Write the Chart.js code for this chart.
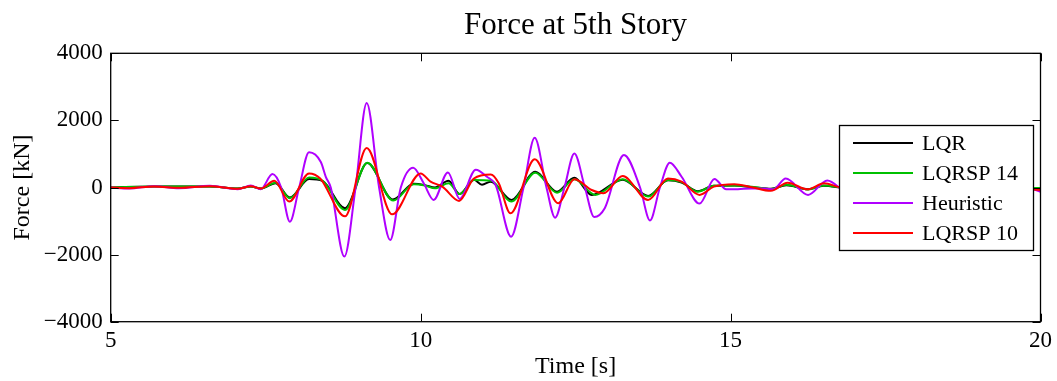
<!DOCTYPE html>
<html>
<head>
<meta charset="utf-8">
<script src="https://cdn.jsdelivr.net/npm/chart.js@4/dist/chart.umd.min.js"></script>
<style>
  html, body { margin: 0; padding: 0; background: #fff; }
  #wrap { width: 1057px; height: 381px; }
</style>
</head>
<body>
<div id="wrap"><canvas id="forceChart" width="1057" height="381"></canvas></div>
<script>
// values (time in s, force in kN)
const timeLQR = [5.0, 5.7, 6.6, 7.05, 7.26, 7.42, 7.66, 7.89, 8.2, 8.42, 8.78, 9.14, 9.55, 9.89, 10.07, 10.23, 10.45, 10.63, 10.86, 10.99, 11.13, 11.47, 11.85, 12.2, 12.48, 12.76, 13.26, 13.67, 13.99, 14.21, 14.47, 14.73, 15.06, 15.4, 15.65, 15.9, 16.25, 16.5, 16.9, 17.4, 18.0, 18.6, 19.2, 20.0];
const forceLQR = [0, 30, 30, -30, 30, -30, 130, -300, 250, 190, -620, 730, -360, 110, 70, 0, 200, -195, 230, 80, 175, -370, 470, -125, 290, -220, 230, -250, 215, 150, -110, 50, 60, 0, -40, 70, -50, 50, -20, 30, -20, 20, -10, -40];

const timeSP14 = [5.0, 5.7, 6.6, 7.05, 7.26, 7.42, 7.66, 7.89, 8.2, 8.42, 8.78, 9.14, 9.56, 9.89, 10.07, 10.23, 10.45, 10.63, 10.86, 11.14, 11.46, 11.85, 12.2, 12.48, 12.82, 13.26, 13.67, 13.99, 14.21, 14.47, 14.73, 15.06, 15.4, 15.65, 15.9, 16.25, 16.5, 16.9, 17.4, 18.0, 18.6, 19.2, 20.0];
const forceSP14 = [0, 30, 30, -30, 30, -30, 140, -320, 300, 200, -670, 740, -390, 100, 60, -25, 125, -195, 225, 200, -420, 440, -155, 245, -220, 245, -270, 225, 160, -125, 50, 60, 10, -50, 80, -60, 60, -20, 40, -20, 20, -10, -15];

const timeHeur = [5.0, 5.3, 5.7, 6.1, 6.6, 7.05, 7.26, 7.42, 7.61, 7.75, 7.89, 8.04, 8.2, 8.39, 8.47, 8.55, 8.77, 8.95, 9.13, 9.33, 9.51, 9.68, 9.88, 10.05, 10.21, 10.44, 10.63, 10.89, 11.07, 11.21, 11.46, 11.66, 11.84, 12.03, 12.17, 12.32, 12.48, 12.65, 12.8, 12.97, 13.28, 13.54, 13.7, 13.86, 14.02, 14.21, 14.5, 14.74, 14.93, 15.12, 15.34, 15.55, 15.69, 15.89, 16.25, 16.56, 16.9, 17.3, 17.7, 18.1, 18.5, 18.9, 19.3, 19.7, 20.0];
const forceHeur = [0, -30, 40, -20, 50, -50, 60, -50, 400, 0, -1020, 0, 1050, 760, 320, 0, -2060, 0, 2520, 0, -1565, 0, 590, 125, -370, 450, -340, 530, 320, 75, -1465, 0, 1480, 0, -900, 0, 1010, 0, -880, -620, 970, 0, -980, 0, 740, 320, -480, 250, -55, -50, -30, -30, -55, 270, -220, 210, -150, 100, -80, 60, -60, 40, -50, 30, -130];

const timeSP10 = [5.0, 5.3, 5.7, 6.1, 6.6, 7.05, 7.26, 7.42, 7.64, 7.88, 8.2, 8.38, 8.78, 9.13, 9.54, 10.0, 10.16, 10.35, 10.62, 10.86, 11.13, 11.26, 11.45, 11.84, 12.22, 12.48, 12.76, 12.95, 13.26, 13.67, 13.99, 14.21, 14.5, 14.73, 15.06, 15.34, 15.65, 15.92, 16.24, 16.51, 16.8, 17.2, 17.6, 18.0, 18.5, 19.0, 19.5, 20.0];
const forceSP10 = [0, -20, 30, -10, 40, -40, 40, -30, 200, -420, 420, 270, -860, 1180, -800, 420, 175, 25, -400, 270, 390, 125, -770, 840, -470, 245, -75, -170, 340, -370, 270, 175, -220, 25, 100, 10, -100, 145, -55, 125, 0, 60, -40, 40, -30, 30, -20, -75];

const xTicks = [5, 10, 15, 20];
const yTicks = [-4000, -2000, 0, 2000, 4000];
const chartTitle = 'Force at 5th Story';

function points(ts, vs) {
    return ts.map((t, i) => ({ x: t, y: vs[i] }));
}

const serif = "'Liberation Serif', 'DejaVu Serif', serif";

// MATLAB style box with inward ticks on all four sides, title centred on the axes
const boxTicks = {
    id: 'boxTicks',
    afterDatasetsDraw(chart) {
        const ctx = chart.ctx;
        const a = chart.chartArea;
        const xs = chart.scales.x, ys = chart.scales.y;
        const len = 8;
        ctx.save();
        ctx.strokeStyle = '#000';
        ctx.lineWidth = 1.3;
        ctx.strokeRect(a.left, a.top, a.right - a.left, a.bottom - a.top);
        ctx.lineWidth = 1;
        ctx.beginPath();
        xTicks.forEach(v => {
            const px = Math.round(xs.getPixelForValue(v)) + 0.5;
            ctx.moveTo(px, a.bottom); ctx.lineTo(px, a.bottom - len);
            ctx.moveTo(px, a.top); ctx.lineTo(px, a.top + len);
        });
        yTicks.forEach(v => {
            const py = Math.round(ys.getPixelForValue(v)) + 0.5;
            ctx.moveTo(a.left, py); ctx.lineTo(a.left + len, py);
            ctx.moveTo(a.right, py); ctx.lineTo(a.right - len, py);
        });
        ctx.stroke();

        ctx.fillStyle = '#000';
        ctx.font = '31px ' + serif;
        ctx.textAlign = 'center';
        ctx.textBaseline = 'middle';
        ctx.fillText(chartTitle, (a.left + a.right) / 2, 26);
        ctx.restore();
    }
};

// legend box sitting inside the axes, upper right
const boxLegend = {
    id: 'boxLegend',
    afterDraw(chart) {
        const ctx = chart.ctx;
        const x0 = 839, y0 = 125, w = 194, h = 125;
        const rows = [143, 173, 203, 233];
        ctx.save();
        ctx.fillStyle = '#fff';
        ctx.fillRect(x0, y0, w, h);
        ctx.strokeStyle = '#000';
        ctx.lineWidth = 1.3;
        ctx.strokeRect(x0 + 0.5, y0 + 0.5, w, h);
        ctx.font = '22px ' + serif;
        ctx.textBaseline = 'middle';
        chart.data.datasets.forEach((ds, i) => {
            const y = rows[i];
            ctx.strokeStyle = ds.borderColor;
            ctx.lineWidth = 2;
            ctx.beginPath();
            ctx.moveTo(853, y); ctx.lineTo(913, y);
            ctx.stroke();
            ctx.fillStyle = '#000';
            ctx.fillText(ds.label, 922, y + 1);
        });
        ctx.restore();
    }
};

function series(label, color, ts, vs, order) {
    return {
        label: label,
        data: points(ts, vs),
        borderColor: color,
        backgroundColor: color,
        borderWidth: 2,
        pointRadius: 0,
        fill: false,
        cubicInterpolationMode: 'monotone',
        order: order
    };
}

const ctx = document.getElementById('forceChart').getContext('2d');
new Chart(ctx, {
    type: 'line',
    data: {
        datasets: [
            series('LQR', '#000000', timeLQR, forceLQR, 4),
            series('LQRSP 14', '#00c000', timeSP14, forceSP14, 3),
            series('Heuristic', '#b000ff', timeHeur, forceHeur, 2),
            series('LQRSP 10', '#ff0000', timeSP10, forceSP10, 1)
        ]
    },
    options: {
        responsive: false,
        animation: false,
        layout: { padding: { left: 0, right: 14.5, top: 53.3, bottom: 0 } },
        plugins: {
            legend: { display: false },
            tooltip: { enabled: false },
            title: { display: false }
        },
        scales: {
            x: {
                type: 'linear',
                min: 5,
                max: 20,
                afterBuildTicks(scale) { scale.ticks = xTicks.map(v => ({ value: v })); },
                afterFit(scale) { scale.height = 59.3; },
                grid: { display: false, drawTicks: false },
                border: { display: false },
                ticks: { color: '#000', font: { family: serif, size: 23 }, padding: 5, maxRotation: 0 },
                title: {
                    display: true,
                    text: 'Time [s]',
                    color: '#000',
                    font: { family: serif, size: 24 },
                    padding: { top: 0, bottom: 0 }
                }
            },
            y: {
                min: -4000,
                max: 4000,
                afterBuildTicks(scale) { scale.ticks = yTicks.map(v => ({ value: v })); },
                afterFit(scale) { scale.width = 110.7; },
                grid: { display: false, drawTicks: false },
                border: { display: false },
                ticks: {
                    color: '#000',
                    font: { family: serif, size: 23 },
                    padding: 8,
                    callback: v => (v < 0 ? '\u2212' + Math.abs(v) : String(v))
                },
                title: {
                    display: true,
                    text: 'Force [kN]',
                    color: '#000',
                    font: { family: serif, size: 24 },
                    padding: { top: 8, bottom: 0 }
                }
            }
        }
    },
    plugins: [boxTicks, boxLegend]
});
</script>
</body>
</html>
